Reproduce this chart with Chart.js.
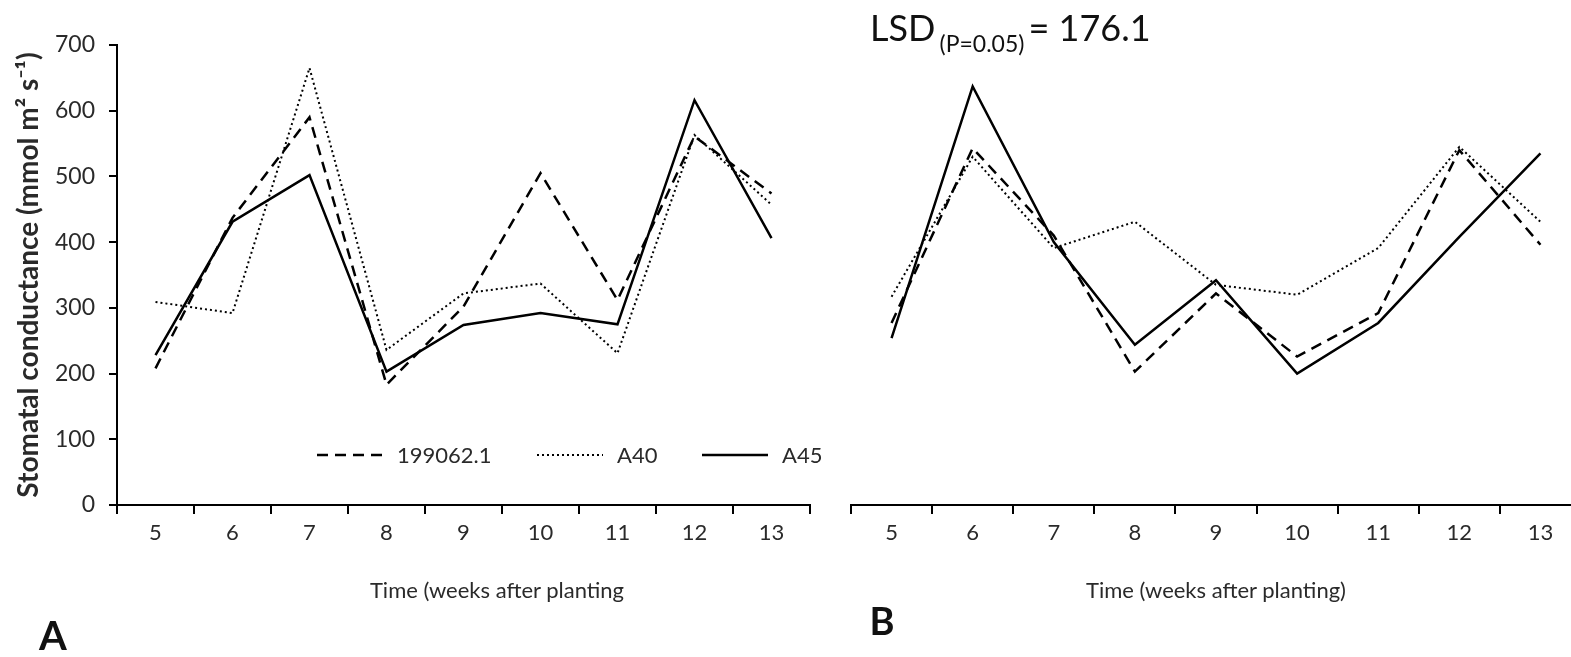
<!DOCTYPE html>
<html>
<head>
<meta charset="utf-8">
<script src="https://cdn.jsdelivr.net/npm/chart.js@4.4.1/dist/chart.umd.min.js"></script>
<style>
  html, body { margin: 0; padding: 0; width: 1571px; height: 657px; overflow: hidden; background: #fff; }
  body { position: relative; font-family: Lato, sans-serif; color: #2a2a2a; }
  .box { position: absolute; top: 0; height: 657px; }
  #boxA { left: 0; width: 830px; }
  #boxB { left: 830px; width: 760px; }
  .lbl { position: absolute; white-space: nowrap; line-height: 1; }
  .mid { transform: translate(-50%, -50%); }
</style>
</head>
<body>
<div class="box" id="boxA"><canvas id="chartA"></canvas></div>
<div class="box" id="boxB"><canvas id="chartB"></canvas></div>

<div class="lbl mid" style="left:497px; top:590px; font-size:22px;">Time (weeks after planting</div>
<div class="lbl mid" style="left:1216px; top:590px; font-size:22px;">Time (weeks after planting)</div>
<div class="lbl mid" style="left:53px; top:635px; font-size:40px; font-weight:bold; color:#111;">A</div>
<div class="lbl mid" style="left:882px; top:620px; font-size:38px; font-weight:bold; color:#111;">B</div>
<div class="lbl" style="left:870px; top:9px; color:#111;">
  <span style="font-size:36px;">LSD</span>
  <span style="font-size:23px; position:relative; top:11px;">(P=0.05)</span>
  <span style="font-size:36px;">= 176.1</span>
</div>

<script>
// ---- data ----
const weeks = ["5", "6", "7", "8", "9", "10", "11", "12", "13"];
const seriesNames = ["199062.1", "A40", "A45"];

// panel A
const a199062 = [208, 437, 590, 183, 302, 505, 312, 561, 474];
const aA40    = [309, 292, 665, 236, 322, 337, 231, 563, 457];
const aA45    = [228, 431, 502, 203, 274, 292, 275, 616, 406];

// panel B
const b199062 = [277, 543, 410, 203, 322, 226, 292, 540, 396];
const bA40    = [317, 530, 391, 431, 335, 320, 391, 545, 431];
const bA45    = [254, 637, 400, 244, 342, 200, 277, 408, 535];

const yTicks = { min: 0, max: 700, step: 100 };

Chart.defaults.font.family = "Lato, sans-serif";
Chart.defaults.color = "#2a2a2a";

// line styles per series: dashed, dotted, solid
const lineStyles = [
  { borderDash: [11, 7], borderWidth: 2.5 },
  { borderDash: [2, 3], borderWidth: 2 },
  { borderDash: [], borderWidth: 2.5 },
];

function makeDatasets(values) {
  return values.map((v, i) => ({
    label: seriesNames[i],
    data: v,
    borderColor: "#000",
    borderWidth: lineStyles[i].borderWidth,
    borderDash: lineStyles[i].borderDash,
    pointRadius: 0,
    tension: 0,
    fill: false,
  }));
}

function xScale() {
  return {
    type: "category",
    offset: true,
    grid: { offset: true, drawOnChartArea: false, drawTicks: true, tickLength: 9, color: "#000", lineWidth: 2 },
    border: { display: true, color: "#000", width: 2 },
    ticks: { font: { size: 22 }, color: "#2a2a2a", padding: 6, maxRotation: 0, autoSkip: false },
    afterFit: s => { s.height = 152; },
  };
}

// legend drawn inside the plot of panel A, near the bottom
const legendX = [317, 537, 702];
const inlineLegend = {
  id: "inlineLegend",
  afterDatasetsDraw(chart) {
    const { ctx, chartArea } = chart;
    const y = chartArea.bottom - 50;
    chart.data.datasets.forEach((ds, i) => {
      const x = legendX[i];
      ctx.save();
      ctx.strokeStyle = ds.borderColor;
      ctx.lineWidth = ds.borderWidth;
      ctx.setLineDash(ds.borderDash);
      ctx.beginPath();
      ctx.moveTo(x, y);
      ctx.lineTo(x + 66, y);
      ctx.stroke();
      ctx.setLineDash([]);
      ctx.fillStyle = "#2a2a2a";
      ctx.font = "22px Lato, sans-serif";
      ctx.textBaseline = "middle";
      ctx.fillText(ds.label, x + 80, y + 1);
      ctx.restore();
    });
  },
};

new Chart(document.getElementById("chartA"), {
  type: "line",
  data: { labels: weeks, datasets: makeDatasets([a199062, aA40, aA45]) },
  options: {
    animation: false,
    responsive: true,
    maintainAspectRatio: false,
    events: [],
    layout: { padding: { left: 0, top: 45, right: 20, bottom: 0 } },
    plugins: { legend: { display: false }, tooltip: { enabled: false } },
    scales: {
      x: xScale(),
      y: {
        min: yTicks.min,
        max: yTicks.max,
        ticks: { stepSize: yTicks.step, font: { size: 23 }, color: "#2a2a2a", padding: 14 },
        grid: { drawOnChartArea: false, drawTicks: true, tickLength: 8, color: "#000", lineWidth: 2 },
        border: { display: true, color: "#000", width: 2 },
        title: {
          display: true,
          text: "Stomatal conductance (mmol m\u00B2 s\u207B\u00B9)",
          font: { size: 28, weight: "bold" },
          color: "#2a2a2a",
          padding: { top: 12, bottom: 0 },
        },
        afterFit: s => { s.width = 117; },
      },
    },
  },
  plugins: [inlineLegend],
});

new Chart(document.getElementById("chartB"), {
  type: "line",
  data: { labels: weeks, datasets: makeDatasets([b199062, bA40, bA45]) },
  options: {
    animation: false,
    responsive: true,
    maintainAspectRatio: false,
    events: [],
    layout: { padding: { left: 21, top: 45, right: 9, bottom: 0 } },
    plugins: { legend: { display: false }, tooltip: { enabled: false } },
    scales: {
      x: xScale(),
      y: { display: false, min: yTicks.min, max: yTicks.max },
    },
  },
});
</script>
</body>
</html>
